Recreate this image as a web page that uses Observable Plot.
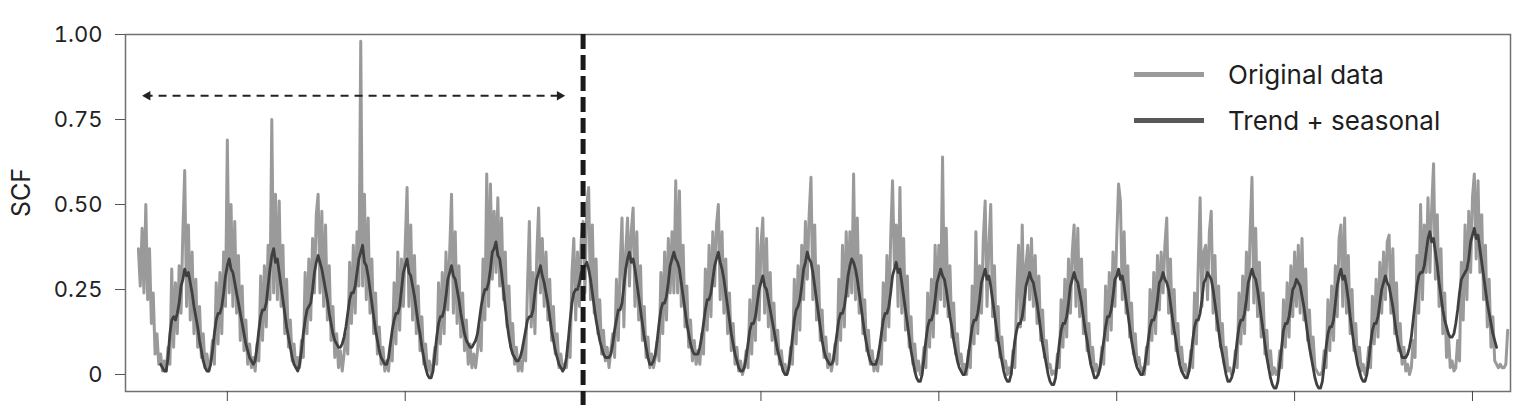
<!DOCTYPE html>
<html><head><meta charset="utf-8">
<script src="https://cdn.jsdelivr.net/npm/d3@7"></script>
<script src="https://cdn.jsdelivr.net/npm/@observablehq/plot@0.6"></script>
<style>
body{margin:0;background:#fff;font-family:Inter,sans-serif;}
#wrap{position:relative;width:1515px;height:405px;overflow:hidden;}
.leg-line{position:absolute;left:1134px;width:70px;height:5px;}
.leg-text{position:absolute;left:1228px;font-size:26px;line-height:26px;color:#1e1e1e;white-space:nowrap;font-family:Inter,sans-serif;}
</style></head><body>
<div id="wrap"></div>
<script>
// Original data, semi-monthly samples, one row per year (1990 ... 2020)
const original = [
[.37,.26,.43,.24,.50,.22,.37,.15,.24,.06,.12,.03,.06,.01,.04,.01,.08,.03,.31,.08,.27,.12,.32,.18],
[.42,.60,.20,.44,.16,.36,.12,.28,.08,.20,.05,.12,.02,.06,.01,.04,.10,.03,.27,.09,.30,.12,.36,.20],
[.69,.24,.50,.20,.45,.18,.35,.10,.26,.07,.16,.03,.09,.02,.05,.01,.09,.04,.29,.10,.32,.14,.38,.22],
[.75,.24,.53,.22,.51,.20,.38,.12,.28,.08,.16,.04,.09,.02,.05,.02,.10,.05,.30,.12,.34,.16,.40,.24],
[.47,.53,.24,.48,.20,.44,.16,.32,.10,.20,.05,.12,.02,.07,.01,.06,.12,.06,.33,.15,.38,.18,.42,.26],
[.98,.26,.53,.22,.46,.18,.34,.12,.24,.06,.14,.03,.08,.01,.04,.01,.09,.04,.27,.09,.36,.13,.34,.20],
[.38,.55,.20,.44,.16,.35,.12,.26,.07,.17,.03,.09,.01,.04,.00,.03,.08,.03,.27,.09,.30,.12,.36,.19],
[.36,.53,.18,.42,.15,.32,.11,.24,.07,.16,.03,.09,.02,.06,.02,.07,.14,.07,.34,.16,.59,.20,.56,.28],
[.48,.30,.52,.26,.46,.22,.36,.14,.26,.08,.15,.03,.08,.01,.04,.01,.09,.04,.26,.45,.14,.30,.12,.35],
[.49,.24,.40,.20,.36,.16,.28,.10,.20,.06,.12,.02,.06,.01,.03,.02,.10,.05,.30,.40,.16,.36,.20,.40],
[.45,.24,.50,.55,.22,.44,.18,.34,.12,.22,.06,.13,.04,.08,.02,.07,.12,.05,.28,.10,.32,.46,.14,.36],
[.46,.26,.42,.49,.20,.42,.16,.32,.10,.20,.05,.11,.02,.06,.02,.05,.10,.04,.30,.12,.36,.16,.40,.24],
[.42,.24,.57,.24,.54,.20,.38,.14,.26,.08,.16,.04,.10,.03,.07,.03,.12,.06,.31,.13,.38,.17,.42,.26],
[.44,.50,.22,.42,.18,.34,.12,.24,.07,.15,.03,.08,.01,.04,.00,.02,.07,.02,.22,.06,.26,.10,.43,.16],
[.38,.46,.18,.40,.14,.30,.10,.21,.06,.13,.03,.07,.01,.03,.00,.02,.08,.03,.28,.09,.32,.13,.38,.22],
[.45,.28,.47,.58,.22,.44,.16,.32,.10,.19,.05,.11,.02,.06,.01,.04,.09,.03,.28,.10,.38,.14,.42,.23],
[.42,.24,.59,.22,.46,.18,.35,.12,.22,.07,.13,.03,.07,.01,.04,.01,.08,.03,.27,.10,.35,.14,.40,.57],
[.32,.44,.20,.55,.18,.40,.13,.29,.08,.17,.03,.09,.01,.04,.00,.02,.08,.02,.24,.08,.28,.11,.38,.18],
[.38,.22,.64,.20,.43,.17,.32,.11,.21,.06,.12,.03,.06,.01,.03,.00,.07,.02,.26,.09,.42,.12,.32,.18],
[.40,.51,.20,.38,.50,.17,.32,.10,.20,.05,.11,.02,.04,.00,.02,.00,.07,.02,.23,.38,.14,.44,.16,.32],
[.38,.22,.40,.20,.35,.15,.29,.10,.19,.05,.10,.02,.03,.00,.01,.00,.06,.02,.22,.08,.28,.11,.34,.18],
[.36,.44,.20,.43,.17,.34,.12,.25,.07,.15,.03,.08,.01,.03,.00,.02,.08,.03,.26,.10,.30,.13,.36,.20],
[.40,.56,.51,.22,.42,.18,.32,.11,.21,.06,.12,.03,.05,.01,.02,.00,.08,.03,.25,.10,.30,.12,.35,.19],
[.36,.24,.38,.46,.18,.34,.12,.25,.07,.15,.03,.08,.01,.03,.00,.01,.07,.02,.24,.09,.32,.52,.20,.36],
[.38,.22,.42,.48,.18,.35,.13,.26,.08,.15,.03,.08,.01,.02,.00,.01,.07,.02,.24,.09,.29,.12,.36,.19],
[.42,.58,.21,.43,.17,.33,.11,.24,.06,.13,.02,.07,.00,.02,.00,.01,.07,.02,.22,.08,.27,.11,.32,.17],
[.36,.20,.38,.18,.40,.16,.31,.10,.19,.05,.11,.02,.01,.00,.00,.01,.07,.02,.22,.07,.26,.10,.32,.17],
[.40,.44,.20,.46,.18,.35,.12,.25,.07,.15,.03,.08,.01,.03,.00,.02,.08,.02,.23,.09,.28,.11,.33,.18],
[.36,.22,.39,.41,.18,.37,.12,.27,.07,.15,.03,.08,.01,.03,.00,.02,.10,.05,.35,.18,.50,.22,.44,.30],
[.52,.30,.49,.62,.28,.47,.20,.37,.12,.24,.05,.12,.02,.04,.01,.02,.10,.04,.33,.16,.44,.22,.48,.30],
[.52,.59,.34,.57,.30,.47,.22,.38,.14,.28,.08,.17,.04,.03,.02,.03,.02,.02,.03,.13]
];
// Trend + seasonal, semi-monthly samples from mid-1990 to mid-2020
const trend = [
[.03,.02,.01,.01,.05,.12,.16,.17,.16,.18,.21,.26],
[.28,.31,.29,.30,.27,.24,.20,.17,.14,.10,.07,.04,.02,.01,.01,.03,.07,.12,.16,.18,.18,.20,.24,.29],
[.32,.34,.31,.30,.27,.24,.21,.18,.15,.12,.09,.07,.05,.04,.03,.04,.08,.13,.17,.19,.19,.21,.26,.31],
[.35,.37,.33,.34,.30,.26,.22,.18,.14,.11,.08,.05,.03,.02,.01,.03,.07,.12,.16,.19,.20,.21,.25,.30],
[.33,.35,.33,.31,.28,.25,.22,.18,.15,.12,.10,.09,.08,.08,.09,.11,.14,.18,.22,.24,.24,.26,.30,.34],
[.36,.38,.33,.32,.29,.25,.21,.17,.13,.10,.07,.05,.04,.03,.03,.05,.09,.13,.16,.18,.18,.20,.25,.30],
[.32,.34,.30,.29,.26,.23,.19,.15,.12,.08,.05,.02,.00,-.01,-.01,.01,.06,.11,.15,.17,.17,.19,.23,.28],
[.30,.32,.29,.28,.25,.22,.18,.15,.12,.10,.09,.08,.08,.09,.10,.12,.16,.20,.23,.25,.25,.27,.31,.36],
[.37,.39,.35,.34,.30,.25,.20,.15,.11,.08,.06,.05,.04,.04,.05,.07,.10,.13,.16,.17,.17,.19,.24,.28],
[.30,.32,.29,.27,.24,.21,.17,.13,.10,.07,.05,.03,.02,.01,.02,.05,.10,.16,.21,.24,.25,.25,.27,.30],
[.31,.32,.33,.31,.28,.24,.20,.16,.13,.10,.08,.06,.05,.05,.05,.06,.09,.13,.16,.19,.19,.21,.26,.31],
[.34,.36,.33,.34,.31,.27,.23,.19,.15,.11,.08,.05,.03,.03,.04,.06,.10,.15,.19,.21,.21,.23,.27,.32],
[.34,.36,.34,.33,.31,.27,.23,.19,.15,.12,.09,.07,.06,.06,.06,.08,.11,.15,.19,.22,.22,.24,.28,.32],
[.34,.36,.33,.31,.28,.24,.20,.16,.12,.09,.06,.04,.02,.01,.01,.02,.05,.09,.13,.15,.15,.17,.21,.25],
[.27,.29,.26,.25,.22,.19,.16,.13,.10,.07,.05,.03,.01,.00,.00,.02,.06,.11,.16,.19,.20,.22,.26,.31],
[.33,.36,.34,.33,.30,.26,.22,.18,.14,.10,.07,.05,.04,.03,.03,.04,.08,.12,.16,.18,.18,.20,.24,.29],
[.32,.34,.33,.31,.28,.24,.20,.16,.12,.09,.06,.04,.03,.03,.03,.05,.08,.12,.16,.18,.18,.20,.24,.29],
[.31,.33,.30,.31,.27,.23,.19,.15,.11,.07,.04,.01,-.01,-.02,-.02,.00,.05,.10,.14,.16,.16,.18,.22,.27],
[.29,.31,.29,.28,.25,.21,.17,.14,.10,.07,.04,.02,.01,.00,.00,.02,.06,.10,.14,.16,.16,.18,.22,.27],
[.29,.31,.28,.29,.26,.22,.18,.14,.10,.07,.04,.01,-.01,-.02,-.02,.00,.05,.10,.13,.15,.15,.17,.21,.26],
[.28,.30,.28,.27,.24,.21,.17,.13,.09,.06,.03,.00,-.02,-.03,-.03,-.01,.04,.09,.13,.15,.15,.17,.21,.26],
[.28,.30,.28,.27,.24,.21,.17,.13,.10,.06,.03,.01,-.01,-.01,.00,.02,.06,.10,.14,.17,.17,.19,.23,.28],
[.29,.31,.28,.29,.26,.22,.18,.14,.10,.07,.04,.02,.01,.00,.00,.02,.06,.10,.14,.16,.16,.18,.22,.27],
[.28,.30,.28,.27,.25,.21,.17,.13,.10,.06,.03,.01,.00,-.01,-.01,.01,.05,.10,.14,.16,.16,.18,.22,.27],
[.28,.30,.29,.28,.25,.21,.17,.13,.09,.06,.03,.00,-.02,-.02,-.01,.01,.05,.10,.14,.16,.16,.18,.22,.27],
[.29,.31,.29,.28,.25,.21,.17,.13,.09,.05,.02,-.01,-.03,-.04,-.04,-.02,.03,.08,.13,.15,.15,.17,.21,.25],
[.26,.28,.27,.26,.23,.20,.16,.12,.08,.05,.02,-.01,-.03,-.04,-.04,-.02,.03,.08,.12,.14,.14,.16,.21,.26],
[.29,.31,.28,.29,.26,.22,.17,.13,.09,.06,.03,.01,-.01,-.02,-.02,.00,.04,.09,.13,.15,.15,.17,.21,.25],
[.27,.29,.27,.26,.23,.20,.16,.12,.09,.07,.05,.05,.05,.06,.08,.11,.16,.21,.26,.29,.30,.30,.32,.36],
[.40,.42,.39,.40,.36,.32,.27,.23,.19,.16,.14,.12,.11,.11,.12,.15,.19,.24,.28,.29,.30,.31,.34,.39],
[.41,.43,.40,.41,.37,.33,.29,.25,.21,.18,.15,.12,.10,.08]
];
const originalStart = 1990.0;   // first sample (decimal year)
const trendStart = 1990.5;
const stepsPerYear = 24;
const xDomain = [1989.71, 2020.855];
const xTicks = [1992, 1996, 2000, 2004, 2008, 2012, 2016, 2020];
const yTicks = [0, 0.25, 0.5, 0.75, 1];
const yTickLabels = ["0", "0.25", "0.50", "0.75", "1.00"];
const yLabel = "SCF";
const breakYear = 2000;
const arrowSpan = [1990.05, 1999.63];
const arrowLevel = 0.82;
const seriesNames = ["Original data", "Trend + seasonal"];
const seriesColors = ["#9a9a9a", "#404040"];
const legendColors = ["#9a9a9a", "#585858"];

const origRows = original.flat().map((v, i) => ({t: originalStart + i / stepsPerYear, v}));
const trendRows = trend.flat().map((v, i) => ({t: trendStart + i / stepsPerYear, v}));

const chart = Plot.plot({
  width: 1515, height: 405,
  marginLeft: 125, marginRight: 5, marginTop: 34, marginBottom: 14,
  x: {domain: xDomain},
  y: {domain: [-0.05, 1]},
  style: {fontFamily: "Inter, sans-serif", fontSize: "22px", color: "#222", background: "white", overflow: "visible"},
  marks: [
    Plot.line(origRows, {x: "t", y: "v", stroke: seriesColors[0], strokeWidth: 3, strokeLinejoin: "round"}),
    Plot.line(trendRows, {x: "t", y: "v", stroke: seriesColors[1], strokeWidth: 2.8, strokeLinejoin: "round"}),
    Plot.frame({stroke: "#707070", strokeWidth: 1.5}),
    Plot.axisY({ticks: yTicks, tickFormat: d => yTickLabels[yTicks.indexOf(d)], tickSize: 10, tickPadding: 13,
      stroke: "#555", label: null, fontSize: 22}),
    Plot.text([yLabel], {text: d => d, frameAnchor: "left", dx: -104, dy: 4, rotate: -90, fontSize: 25, fill: "#222"}),
    Plot.axisX({ticks: xTicks, tickSize: 10, tickFormat: () => "", label: null, stroke: "#444"}),
    Plot.ruleX([breakYear], {y1: 1, y2: -0.1, stroke: "#1a1a1a", strokeWidth: 5, strokeDasharray: "15,6"}),
    Plot.ruleY([arrowLevel], {x1: arrowSpan[0] + 0.1, x2: arrowSpan[1] - 0.1, stroke: "#222", strokeWidth: 2, strokeDasharray: "8,6"}),
    Plot.dot([arrowSpan[0]], {x: d => d, y: arrowLevel, symbol: "triangle2", r: 4.6, rotate: -90, dx: 7, fill: "#222", stroke: null}),
    Plot.dot([arrowSpan[1]], {x: d => d, y: arrowLevel, symbol: "triangle2", r: 4.6, rotate: 90, dx: -7, fill: "#222", stroke: null})
  ]
});
const wrap = document.getElementById("wrap");
wrap.appendChild(chart);

// legend overlay inside the plot frame
const legTops = [72, 118];
seriesNames.forEach((name, i) => {
  const ln = document.createElement("div");
  ln.className = "leg-line";
  ln.style.top = legTops[i] + "px";
  ln.style.background = legendColors[i];
  wrap.appendChild(ln);
  const tx = document.createElement("div");
  tx.className = "leg-text";
  tx.style.top = (legTops[i] - 10) + "px";
  tx.textContent = name;
  wrap.appendChild(tx);
});
</script>
</body></html>
